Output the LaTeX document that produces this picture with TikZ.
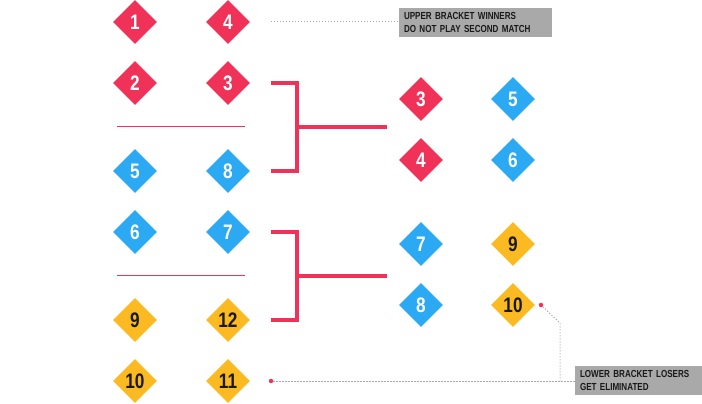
\documentclass[tikz,border=0pt]{standalone}
\usepackage{fontspec}
\setmainfont{Liberation Sans}[FakeStretch=0.82]
\newfontfamily\callfont{Liberation Sans}[FakeStretch=0.79, WordSpace=0.55]
\usetikzlibrary{shapes.geometric}
\definecolor{cred}{HTML}{F03258}
\definecolor{cblue}{HTML}{2BA9F3}
\definecolor{cyel}{HTML}{FBBA22}
\definecolor{cgray}{HTML}{A9A9A9}
\definecolor{cdot}{HTML}{AAAAAA}
\tikzset{
  seed/.style={diamond, aspect=1, inner sep=0pt, minimum width=44pt, minimum height=44pt,
    font=\bfseries\fontsize{21}{21}\selectfont},
  sred/.style={seed, fill=cred, text=white},
  sblue/.style={seed, fill=cblue, text=white},
  syel/.style={seed, fill=cyel, text=black!90},
  bracketline/.style={draw=cred, line width=4pt, line cap=butt},
  divider/.style={draw=cred, line width=1.2pt},
  dotline/.style={draw=cdot, line width=1pt, dash pattern=on 1.2pt off 1.8pt},
  callout/.style={fill=cgray, align=left, inner xsep=5pt, inner ysep=0pt, minimum height=29pt,
    font=\callfont\bfseries\fontsize{10.2}{12.8}\selectfont, text=black!90},
  reddot/.style={circle, fill=cred, inner sep=0pt, minimum size=4.5pt}
}
\begin{document}
\begin{tikzpicture}[x=1pt, y=-1pt]
\useasboundingbox (0,0) rectangle (702,404);
% left column seeds
\node[sred]  (s1)  at (135,22)  {1};
\node[sred]  (s4)  at (228,22)  {4};
\node[sred]  (s2)  at (135,83)  {2};
\node[sred]  (s3)  at (228,83)  {3};
\node[sblue] (s5)  at (135,171) {5};
\node[sblue] (s8)  at (228,171) {8};
\node[sblue] (s6)  at (135,232) {6};
\node[sblue] (s7)  at (228,232) {7};
\node[syel]  (s9)  at (135,320) {9};
\node[syel]  (s12) at (228,320) {12};
\node[syel]  (s10) at (135,381) {10};
\node[syel]  (s11) at (228,381) {11};
% right column seeds
\node[sred]  (r3)  at (421,99)  {3};
\node[sblue] (r5)  at (513,99)  {5};
\node[sred]  (r4)  at (421,160) {4};
\node[sblue] (r6)  at (513,160) {6};
\node[sblue] (r7)  at (421,244) {7};
\node[syel]  (r9)  at (513,244) {9};
\node[sblue] (r8)  at (421,305) {8};
\node[syel]  (r10) at (513,305) {10};
% dividers
\coordinate (d1a) at (117,126.5); \coordinate (d1b) at (245,126.5);
\coordinate (d2a) at (117,275.5); \coordinate (d2b) at (245,275.5);
\draw[divider] (d1a) -- (d1b);
\draw[divider] (d2a) -- (d2b);
% brackets
\coordinate (b1t) at (271,83);  \coordinate (b1b) at (271,171);
\coordinate (b1m) at (297,127); \coordinate (b1e) at (387,127);
\draw[bracketline] (b1t) -| (297,171) -- (b1b);
\draw[bracketline] (b1m) -- (b1e);
\coordinate (b2t) at (271,232); \coordinate (b2b) at (271,320);
\coordinate (b2m) at (297,275.5); \coordinate (b2e) at (387,275.5);
\draw[bracketline] (b2t) -| (297,320) -- (b2b);
\draw[bracketline] (b2m) -- (b2e);
% callout 1
\node[callout, text width=143pt] (c1) at (475.5,22.5) {UPPER BRACKET WINNERS\\DO NOT PLAY SECOND MATCH};
\coordinate (c1s) at (271,22);
\draw[dotline] (c1s) -- (c1.west |- c1s);
% callout 2
\node[callout, text width=117pt] (c2) at (638.5,380.5) {LOWER BRACKET LOSERS\\GET ELIMINATED};
\node[reddot] (dA) at (541,305) {};
\node[reddot] (dB) at (271,381) {};
\coordinate (k1) at (560,323);
\coordinate (k2) at (560,381);
\draw[dotline] (dA) -- (k1) -- (k2);
\draw[dotline] (dB) -- (dB -| c2.west);
\end{tikzpicture}
\end{document}
